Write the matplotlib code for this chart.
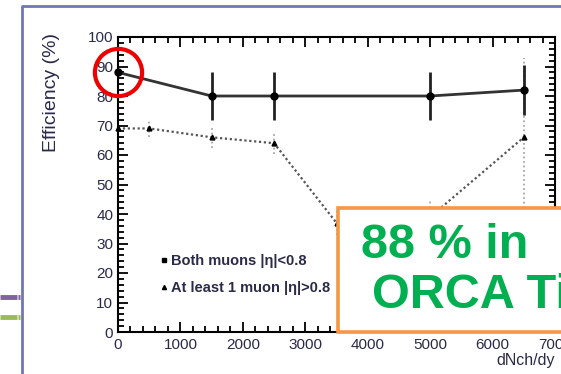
import matplotlib
matplotlib.use("Agg")
import matplotlib.pyplot as plt
from matplotlib.lines import Line2D
from matplotlib.patches import Rectangle
from matplotlib.ticker import MultipleLocator

plt.rcParams["font.family"] = ["Liberation Sans", "DejaVu Sans"]

# data
dnch = [0, 1500, 2500, 5000, 6500]
eff_both = [88, 80, 80, 80, 82]
err_both = [0, 8, 8, 8, 8.5]

dnch_one = [0, 500, 1500, 2500, 3500, 5000, 6500]
eff_one = [69, 69, 66, 64, 37, 39, 66]
err_one = [0, 3, 3.5, 3.7, 4, 6, 27]

legend_labels = ["Both muons |\u03b7|<0.8", "At least 1 muon |\u03b7|>0.8"]
box_lines = ["88 % in", "ORCA Ti"]

TXT = "#2a2a4a"

fig = plt.figure(figsize=(5.61, 3.74), dpi=100)
ax = fig.add_axes([118 / 561, 1 - 332 / 374, 437 / 561, 295 / 374])

# dotted series (at least one muon outside barrel)
eb = ax.errorbar(dnch_one, eff_one, yerr=err_one, fmt="none", ecolor="#a8a8a8",
                 elinewidth=1.3, zorder=2)
eb[2][0].set_linestyle((0, (1, 1.5)))
ax.plot(dnch_one, eff_one, ls=(0, (1, 1.2)), color="#555555", lw=1.6,
        marker="^", ms=3.5, mfc="black", mec="black", zorder=3, clip_on=False)

# solid series (both muons in barrel)
ax.errorbar(dnch, eff_both, yerr=err_both, fmt="none", ecolor="#222222",
            elinewidth=2, capsize=0, zorder=4)
ax.plot(dnch, eff_both, "-", color="#333333", lw=2, marker="o", ms=5,
        mfc="black", mec="black", zorder=5, clip_on=False)

# red highlight around the first point
ax.plot(dnch[0], eff_both[0], marker="o", ms=34, mfc="none", mec="#ee0000",
        mew=3, zorder=10, clip_on=False)

ax.set_xlim(0, 7000)
ax.set_ylim(0, 100)
ax.xaxis.set_major_locator(MultipleLocator(1000))
ax.xaxis.set_minor_locator(MultipleLocator(200))
ax.yaxis.set_major_locator(MultipleLocator(10))
ax.yaxis.set_minor_locator(MultipleLocator(2))
ax.tick_params(which="both", direction="in", top=True, right=True,
               colors="black", labelcolor=TXT, labelsize=11, width=1.3)
ax.tick_params(which="major", length=7)
ax.tick_params(which="minor", length=4)
ax.tick_params(axis="x", pad=4)
for s in ax.spines.values():
    s.set_linewidth(1.5)

ax.set_xlabel("dNch/dy", loc="right", fontsize=11.5, color=TXT, labelpad=1)
ax.text(-0.153, 1.015, "Efficiency (%)", transform=ax.transAxes, rotation=90,
        ha="center", va="top", fontsize=14, color=TXT)

handles = [Line2D([], [], ls="none", marker="s", ms=3.5, color="black"),
           Line2D([], [], ls="none", marker="^", ms=3, color="black")]
leg = ax.legend(handles, legend_labels, loc="upper left",
                bbox_to_anchor=(0.085, 0.285), frameon=False, handlelength=0.4,
                handletextpad=0.3, labelspacing=0.9, borderaxespad=0,
                prop={"size": 10.5, "weight": "bold"})
for t in leg.get_texts():
    t.set_color(TXT)

# slide decorations on an overlay in pixel coordinates
ov = fig.add_axes([0, 0, 1, 1], zorder=20)
ov.set_xlim(0, 561)
ov.set_ylim(374, 0)
ov.axis("off")
ov.patch.set_alpha(0)

ov.plot([22, 22, 561], [374, 6, 6], color="#7078b0", lw=2, solid_capstyle="butt")
ov.plot([0, 17], [297, 297], color="#8064a2", lw=3.5, solid_capstyle="butt")
ov.plot([18.5, 20.5], [297, 297], color="#8064a2", lw=3.5, solid_capstyle="butt")
ov.plot([0, 17], [317, 317], color="#9bbb59", lw=3.5, solid_capstyle="butt")
ov.plot([18.5, 20.5], [317, 317], color="#9bbb59", lw=3.5, solid_capstyle="butt")

ov.add_patch(Rectangle((338, 208), 260, 124, facecolor="white",
                       edgecolor="#f79646", lw=2.6))
ov.text(361, 246, box_lines[0], fontsize=35, fontweight="bold",
        color="#00b050", va="center", ha="left")
ov.text(372, 296, box_lines[1], fontsize=35, fontweight="bold",
        color="#00b050", va="center", ha="left")

fig.savefig("out.png", dpi=100, facecolor="white")
